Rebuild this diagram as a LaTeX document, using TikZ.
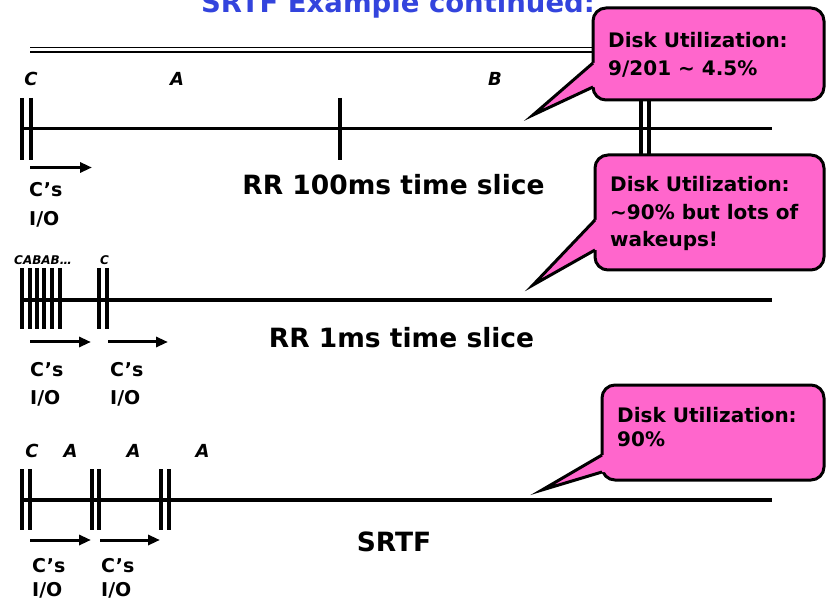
\documentclass[tikz,border=0pt]{standalone}
\usepackage{fontspec}
\setmainfont{DejaVu Sans}
\usetikzlibrary{arrows.meta}
\definecolor{bubblepink}{HTML}{FF66CC}
\definecolor{titleblue}{HTML}{3344DD}

% speech bubble: #1 left, #2 top, #3 right, #4 bottom,
% #5/#6 where the pointer leaves the left side, #7/#8 pointer tip
\newcommand\callout[8]{%
  \draw[bubble, rounded corners=13pt] (#1,#2) rectangle (#3,#4);
  \fill[bubblepink] (#1,#5) -- (#7,#8) -- (#1,#6) -- (#1+4,#6) -- (#1+4,#5) -- cycle;
  \draw[line width=3pt, line join=miter] (#1,#5) -- (#7,#8) -- (#1,#6);
}

\begin{document}
\begin{tikzpicture}[x=1pt, y=-1pt,
  axis/.style={line width=3.5pt},
  tickbar/.style={line width=3.5pt},
  ioarrow/.style={line width=3pt, -{Triangle[length=12pt,width=10pt]}},
  proc/.style={font=\fontsize{18}{18}\selectfont\bfseries\itshape, anchor=base, inner sep=0pt},
  tinyproc/.style={font=\fontsize{12}{12}\selectfont\bfseries\itshape, anchor=base west, inner sep=0pt},
  iolbl/.style={font=\fontsize{19}{28}\selectfont\bfseries, anchor=base west, inner sep=0pt, align=left},
  slice/.style={font=\fontsize{26.5}{26.5}\selectfont\bfseries, anchor=base, inner sep=0pt},
  bubble/.style={fill=bubblepink, draw=black, line width=3pt},
  btext/.style={font=\fontsize{20}{28}\selectfont\bfseries, anchor=base west, inner sep=0pt},
  titletext/.style={font=\fontsize{27.5}{27.5}\selectfont\bfseries, text=titleblue, anchor=base, inner sep=0pt}]
\useasboundingbox (0,0) rectangle (827,601);
\clip (0,0) rectangle (827,601);

% heading and its double rule
\node[titletext] (title) at (398,13) {SRTF Example continued:};
\draw[line width=1.4pt] (30,47.5) -- (600,47.5);
\draw[line width=1.4pt] (30,52) -- (600,52);

% ---------- RR 100ms ----------
\draw[axis] (22,128.5) -- (772,128.5);
\foreach \x in {22,31,340,641,649}
  \draw[tickbar] (\x,98) -- (\x,160);
\node[proc] (c1) at (31,86) {C};
\node[proc] (a1) at (177,86) {A};
\node[proc] (b1) at (495,86) {B};
\coordinate (io1s) at (30,167.5);
\coordinate (io1e) at (92,167.5);
\draw[ioarrow] (io1s) -- (io1e);
\node[iolbl] (io1l) at (29,197) {C's};
\node[iolbl] (io1m) at (29,226) {I/O};
\node[slice] (rr100) at (393.5,195) {RR 100ms time slice};

% ---------- RR 1ms ----------
\draw[axis] (22,300) -- (772,300);
\foreach \x in {22,30,37,44,52,60,99,107}
  \draw[tickbar] (\x,268) -- (\x,329);
\node[tinyproc] (cabab) at (14,265) {CABAB…};
\node[tinyproc] (c2) at (100,265) {C};
\coordinate (io2s) at (30,342);
\coordinate (io2e) at (91,342);
\coordinate (io3s) at (108,342);
\coordinate (io3e) at (168,342);
\draw[ioarrow] (io2s) -- (io2e);
\draw[ioarrow] (io3s) -- (io3e);
\node[iolbl] (io2l) at (30,377) {C's};
\node[iolbl] (io2m) at (30,404) {I/O};
\node[iolbl] (io3l) at (110,377) {C's};
\node[iolbl] (io3m) at (110,404) {I/O};
\node[slice] (rr1) at (401.5,348) {RR 1ms time slice};

% ---------- SRTF ----------
\draw[axis] (20,500) -- (772,500);
\foreach \x in {22,30,92,99,161,169}
  \draw[tickbar] (\x,469) -- (\x,530);
\node[proc] (c3) at (32,457) {C};
\node[proc] (a3) at (70.5,457) {A};
\node[proc] (a4) at (133.5,457) {A};
\node[proc] (a5) at (202.5,457) {A};
\coordinate (io4s) at (30,540);
\coordinate (io4e) at (91,540);
\coordinate (io5s) at (100,540);
\coordinate (io5e) at (160,540);
\draw[ioarrow] (io4s) -- (io4e);
\draw[ioarrow] (io5s) -- (io5e);
\node[iolbl] (io4l) at (32,572) {C's};
\node[iolbl] (io4m) at (32,596) {I/O};
\node[iolbl] (io5l) at (101,572) {C's};
\node[iolbl] (io5m) at (101,596) {I/O};
\node[slice] (srtf) at (394,551) {SRTF};

% ---------- disk utilization callouts ----------
\callout{593}{8}{824}{100}{63}{87}{533}{115}
\node[btext] (du1a) at (608,48) {Disk Utilization:};
\node[btext] (du1b) at (608,76) {9/201 \textasciitilde{} 4.5\%};

\callout{595}{155}{824}{270}{220}{250}{533}{285}
\node[btext] (du2a) at (610,192) {Disk Utilization:};
\node[btext] (du2b) at (610,220) {\textasciitilde90\% but lots of};
\node[btext] (du2c) at (610,247) {wakeups!};

\callout{602}{385}{824}{480}{455}{472}{542}{490}
\node[btext] (du3a) at (617,422) {Disk Utilization:};
\node[btext] (du3b) at (617,446) {90\%};
\end{tikzpicture}
\end{document}
